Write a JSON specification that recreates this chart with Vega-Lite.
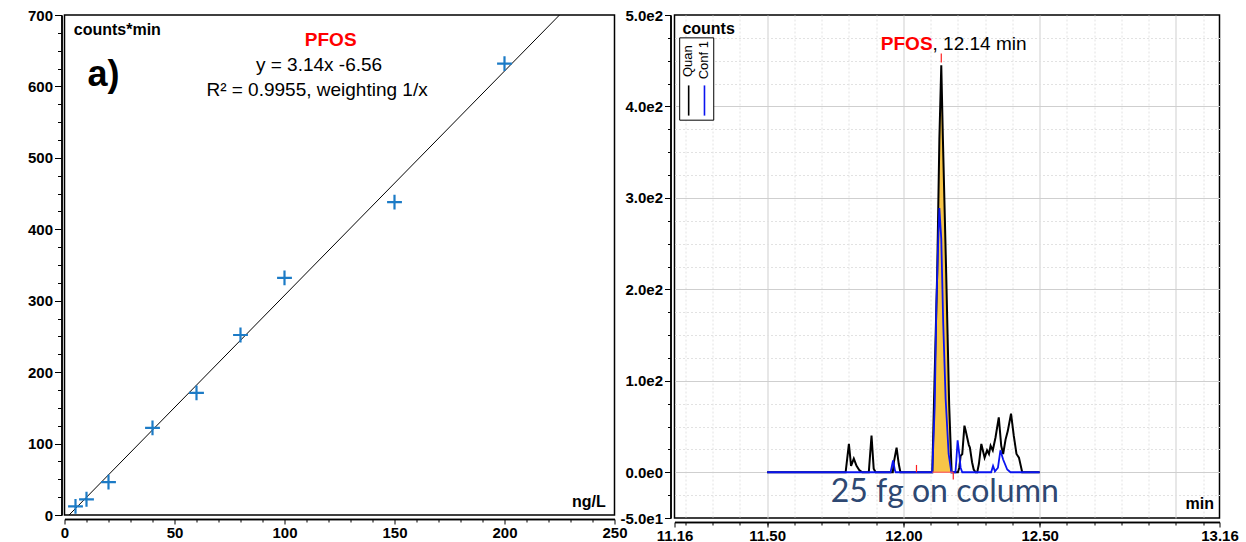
{
  "$schema": "https://vega.github.io/schema/vega-lite/v6.json",
  "background": "white",
  "padding": {"left": 26.5, "top": 7, "right": 0, "bottom": 0},
  "bounds": "flush",
  "spacing": 60,
  "config": {
    "font": "Liberation Sans",
    "view": {"stroke": "black", "strokeWidth": 1.5},
    "axis": {
      "domainColor": "black", "domainWidth": 1.5, "tickColor": "black", "tickWidth": 1,
      "labelColor": "black", "labelFont": "Liberation Sans", "labelFontWeight": "bold", "labelFontSize": 15,
      "grid": false, "labelOverlap": false, "labelFlush": false
    }
  },
  "datasets": {
    "cal": [
      {"conc": 5, "area": 12}, {"conc": 10, "area": 22}, {"conc": 20, "area": 46},
      {"conc": 40, "area": 122}, {"conc": 60, "area": 171}, {"conc": 80, "area": 252},
      {"conc": 100, "area": 332}, {"conc": 150, "area": 438}, {"conc": 200, "area": 632}
    ],
    "fit": [{"conc": 2.09, "area": 0}, {"conc": 225, "area": 700}],
    "chrom": [
      {"t": 11.5, "c": 0, "trace": "Quan"}, {"t": 11.788, "c": 0, "trace": "Quan"}, {"t": 11.8, "c": 31, "trace": "Quan"},
      {"t": 11.808, "c": 7, "trace": "Quan"}, {"t": 11.818, "c": 15, "trace": "Quan"}, {"t": 11.828, "c": 7, "trace": "Quan"},
      {"t": 11.839, "c": 2, "trace": "Quan"}, {"t": 11.849, "c": 0, "trace": "Quan"}, {"t": 11.873, "c": 0, "trace": "Quan"},
      {"t": 11.883, "c": 40, "trace": "Quan"}, {"t": 11.891, "c": 4, "trace": "Quan"}, {"t": 11.898, "c": 0, "trace": "Quan"},
      {"t": 11.961, "c": 0, "trace": "Quan"}, {"t": 11.965, "c": 11, "trace": "Quan"}, {"t": 11.975, "c": 27, "trace": "Quan"},
      {"t": 11.983, "c": 9, "trace": "Quan"}, {"t": 11.989, "c": 0, "trace": "Quan"}, {"t": 12.106, "c": 0, "trace": "Quan"},
      {"t": 12.112, "c": 73, "trace": "Quan"}, {"t": 12.124, "c": 218, "trace": "Quan"}, {"t": 12.132, "c": 364, "trace": "Quan"},
      {"t": 12.139, "c": 445, "trace": "Quan"}, {"t": 12.145, "c": 364, "trace": "Quan"}, {"t": 12.157, "c": 218, "trace": "Quan"},
      {"t": 12.168, "c": 73, "trace": "Quan"}, {"t": 12.177, "c": 0, "trace": "Quan"}, {"t": 12.2, "c": 0, "trace": "Quan"},
      {"t": 12.205, "c": 5, "trace": "Quan"}, {"t": 12.21, "c": 18, "trace": "Quan"}, {"t": 12.216, "c": 20, "trace": "Quan"},
      {"t": 12.224, "c": 51, "trace": "Quan"}, {"t": 12.229, "c": 45, "trace": "Quan"}, {"t": 12.234, "c": 38, "trace": "Quan"},
      {"t": 12.24, "c": 30, "trace": "Quan"}, {"t": 12.244, "c": 27, "trace": "Quan"}, {"t": 12.252, "c": 11, "trace": "Quan"},
      {"t": 12.258, "c": 3, "trace": "Quan"}, {"t": 12.265, "c": 0, "trace": "Quan"}, {"t": 12.271, "c": 0, "trace": "Quan"},
      {"t": 12.277, "c": 9, "trace": "Quan"}, {"t": 12.286, "c": 31, "trace": "Quan"}, {"t": 12.298, "c": 16, "trace": "Quan"},
      {"t": 12.307, "c": 24, "trace": "Quan"}, {"t": 12.314, "c": 20, "trace": "Quan"}, {"t": 12.32, "c": 29, "trace": "Quan"},
      {"t": 12.328, "c": 24, "trace": "Quan"}, {"t": 12.338, "c": 38, "trace": "Quan"}, {"t": 12.35, "c": 60, "trace": "Quan"},
      {"t": 12.359, "c": 29, "trace": "Quan"}, {"t": 12.366, "c": 20, "trace": "Quan"}, {"t": 12.375, "c": 36, "trace": "Quan"},
      {"t": 12.383, "c": 45, "trace": "Quan"}, {"t": 12.395, "c": 64, "trace": "Quan"}, {"t": 12.405, "c": 40, "trace": "Quan"},
      {"t": 12.415, "c": 20, "trace": "Quan"}, {"t": 12.424, "c": 16, "trace": "Quan"}, {"t": 12.436, "c": 0, "trace": "Quan"},
      {"t": 12.5, "c": 0, "trace": "Quan"},
      {"t": 11.5, "c": 0, "trace": "Conf 1"}, {"t": 11.953, "c": 0, "trace": "Conf 1"}, {"t": 11.962, "c": 13, "trace": "Conf 1"},
      {"t": 11.969, "c": 2, "trace": "Conf 1"}, {"t": 11.972, "c": 0, "trace": "Conf 1"}, {"t": 12.106, "c": 0, "trace": "Conf 1"},
      {"t": 12.115, "c": 73, "trace": "Conf 1"}, {"t": 12.121, "c": 182, "trace": "Conf 1"}, {"t": 12.128, "c": 255, "trace": "Conf 1"},
      {"t": 12.132, "c": 289, "trace": "Conf 1"}, {"t": 12.139, "c": 255, "trace": "Conf 1"}, {"t": 12.146, "c": 164, "trace": "Conf 1"},
      {"t": 12.155, "c": 80, "trace": "Conf 1"}, {"t": 12.166, "c": 20, "trace": "Conf 1"}, {"t": 12.176, "c": 0, "trace": "Conf 1"},
      {"t": 12.191, "c": 0, "trace": "Conf 1"}, {"t": 12.194, "c": 12, "trace": "Conf 1"}, {"t": 12.199, "c": 35, "trace": "Conf 1"},
      {"t": 12.205, "c": 20, "trace": "Conf 1"}, {"t": 12.21, "c": 5, "trace": "Conf 1"}, {"t": 12.216, "c": 0, "trace": "Conf 1"},
      {"t": 12.322, "c": 0, "trace": "Conf 1"}, {"t": 12.329, "c": 7, "trace": "Conf 1"}, {"t": 12.336, "c": 1, "trace": "Conf 1"},
      {"t": 12.347, "c": 5, "trace": "Conf 1"}, {"t": 12.356, "c": 24, "trace": "Conf 1"}, {"t": 12.366, "c": 14, "trace": "Conf 1"},
      {"t": 12.381, "c": 3, "trace": "Conf 1"}, {"t": 12.393, "c": 0, "trace": "Conf 1"}, {"t": 12.5, "c": 0, "trace": "Conf 1"}
    ]
  },
  "hconcat": [
    {
      "width": 550,
      "height": 500,
      "resolve": {"axis": {"x": "independent", "y": "independent"}},
      "layer": [
        {
          "data": {"name": "fit"},
          "mark": {"type": "line", "color": "black", "strokeWidth": 1, "clip": true},
          "encoding": {
            "x": {"field": "conc", "type": "quantitative", "scale": {"domain": [0, 250], "nice": false},
              "axis": {"title": null, "orient": "bottom", "offset": 4, "values": [0, 50, 100, 150, 200, 250], "format": "d", "tickSize": 5, "labelPadding": 1}},
            "y": {"field": "area", "type": "quantitative", "scale": {"domain": [0, 700], "nice": false},
              "axis": {"title": null, "orient": "left", "offset": 3, "values": [0, 100, 200, 300, 400, 500, 600, 700], "format": "d", "tickSize": 7, "labelPadding": 2}}
          }
        },
        {
          "data": {"name": "cal"},
          "mark": {"type": "point", "shape": "M-1,0H1M0,-1V1", "filled": false, "color": "#1C7BC6", "strokeWidth": 2.2, "size": 220, "opacity": 1},
          "encoding": {
            "x": {"field": "conc", "type": "quantitative",
              "axis": {"title": null, "orient": "bottom", "offset": 4, "labels": false, "tickSize": 3,
                "values": [10,20,30,40,60,70,80,90,110,120,130,140,160,170,180,190,210,220,230,240]}},
            "y": {"field": "area", "type": "quantitative",
              "axis": {"title": null, "orient": "left", "offset": 3, "labels": false, "tickSize": 4,
                "values": [25,50,75,125,150,175,225,250,275,325,350,375,425,450,475,525,550,575,625,650,675]}}
          }
        },
        {
          "data": {"values": [
            {"x": 4.2, "y": 672, "label": "counts*min", "kind": "unit"},
            {"x": 246, "y": 11, "label": "ng/L", "kind": "unitr"}
          ]},
          "transform": [{"filter": "datum.kind === 'unit'"}],
          "mark": {"type": "text", "align": "left", "baseline": "alphabetic", "fontSize": 16, "fontWeight": "bold", "color": "black"},
          "encoding": {"x": {"field": "x", "type": "quantitative", "axis": null}, "y": {"field": "y", "type": "quantitative", "axis": null}, "text": {"field": "label"}}
        },
        {
          "data": {"values": [{"x": 246, "y": 11, "label": "ng/L"}]},
          "mark": {"type": "text", "align": "right", "baseline": "alphabetic", "fontSize": 16, "fontWeight": "bold", "color": "black"},
          "encoding": {"x": {"field": "x", "type": "quantitative", "axis": null}, "y": {"field": "y", "type": "quantitative", "axis": null}, "text": {"field": "label"}}
        },
        {
          "data": {"values": [{"x": 10.5, "y": 601, "label": "a)"}]},
          "mark": {"type": "text", "align": "left", "baseline": "alphabetic", "fontSize": 36, "fontWeight": "bold", "color": "black"},
          "encoding": {"x": {"field": "x", "type": "quantitative", "axis": null}, "y": {"field": "y", "type": "quantitative", "axis": null}, "text": {"field": "label"}}
        },
        {
          "data": {"values": [{"x": 121, "y": 657, "label": "PFOS"}]},
          "mark": {"type": "text", "align": "center", "baseline": "alphabetic", "fontSize": 19, "fontWeight": "bold", "color": "#FF0000"},
          "encoding": {"x": {"field": "x", "type": "quantitative", "axis": null}, "y": {"field": "y", "type": "quantitative", "axis": null}, "text": {"field": "label"}}
        },
        {
          "data": {"values": [{"x": 115.7, "y": 622, "label": "y = 3.14x -6.56"}, {"x": 114.8, "y": 587, "label": "R² = 0.9955, weighting 1/x"}]},
          "mark": {"type": "text", "align": "center", "baseline": "alphabetic", "fontSize": 19, "color": "black"},
          "encoding": {"x": {"field": "x", "type": "quantitative", "axis": null}, "y": {"field": "y", "type": "quantitative", "axis": null}, "text": {"field": "label"}}
        }
      ]
    },
    {
      "width": 545,
      "height": 503,
      "resolve": {"axis": {"x": "independent", "y": "independent"}},
      "layer": [
        {
          "data": {"name": "chrom"},
          "transform": [{"filter": "datum.trace === 'Quan' && datum.t >= 12.106 && datum.t <= 12.177"}],
          "mark": {"type": "area", "color": "#F7C548", "opacity": 1},
          "encoding": {
            "x": {"field": "t", "type": "quantitative", "scale": {"domain": [11.16, 13.16], "nice": false},
              "axis": {"title": null, "orient": "bottom", "offset": 4, "labels": false, "tickSize": 3,
                "values": [11.2,11.3,11.4,11.5,11.6,11.7,11.8,11.9,12,12.1,12.2,12.3,12.4,12.5,12.6,12.7,12.8,12.9,13,13.1],
                "grid": true,
                "gridColor": {"condition": {"test": "abs(datum.value - 11.5) < 0.001 || abs(datum.value - 12) < 0.001 || abs(datum.value - 12.5) < 0.001 || abs(datum.value - 13) < 0.001", "value": "#cfcfcf"}, "value": "#e2e2e2"},
                "gridDash": {"condition": {"test": "abs(datum.value - 11.5) < 0.001 || abs(datum.value - 12) < 0.001 || abs(datum.value - 12.5) < 0.001 || abs(datum.value - 13) < 0.001", "value": []}, "value": [2, 2]},
                "gridWidth": 1}},
            "y": {"field": "c", "type": "quantitative", "scale": {"domain": [-50, 500], "nice": false, "zero": false},
              "axis": {"title": null, "orient": "left", "offset": 4, "labels": false, "tickSize": 3,
                "values": [-25,0,25,50,75,100,125,150,175,200,225,250,275,300,325,350,375,400,425,450,475],
                "grid": true,
                "gridColor": {"condition": {"test": "datum.value % 100 === 0", "value": "#cfcfcf"}, "value": "#e2e2e2"},
                "gridDash": {"condition": {"test": "datum.value % 100 === 0", "value": []}, "value": [2, 2]},
                "gridWidth": 1}}
          }
        },
        {
          "data": {"name": "chrom"},
          "transform": [{"filter": "datum.trace === 'Quan'"}],
          "mark": {"type": "line", "color": "black", "strokeWidth": 2},
          "encoding": {
            "x": {"field": "t", "type": "quantitative",
              "axis": {"title": null, "orient": "bottom", "offset": 4, "tickSize": 5, "labelPadding": 1,
                "values": [11.16, 11.5, 12, 12.5, 13.16], "format": ".2f"}},
            "y": {"field": "c", "type": "quantitative",
              "axis": {"title": null, "orient": "left", "offset": 4, "tickSize": 6, "labelPadding": 2,
                "values": [-50, 0, 100, 200, 300, 400, 500],
                "labelExpr": "replace(replace(format(datum.value, '.1e'), '+', ''), '−', '-')"}}
          }
        },
        {
          "data": {"name": "chrom"},
          "transform": [{"filter": "datum.trace === 'Conf 1'"}],
          "mark": {"type": "line", "color": "#0A14F0", "strokeWidth": 1.8},
          "encoding": {
            "x": {"field": "t", "type": "quantitative", "axis": null},
            "y": {"field": "c", "type": "quantitative", "axis": null}
          }
        },
        {
          "data": {"values": [{"t1": 12.106, "t2": 12.183, "c": 0}]},
          "mark": {"type": "rule", "color": "#FF5A5A", "strokeWidth": 1.5, "opacity": 0.8},
          "encoding": {"x": {"field": "t1", "type": "quantitative", "axis": null}, "x2": {"field": "t2"}, "y": {"field": "c", "type": "quantitative", "axis": null}}
        },
        {
          "data": {"values": [{"t": 12.048, "c1": 0, "c2": 8}, {"t": 12.183, "c1": -8, "c2": 0}, {"t": 12.139, "c1": 448, "c2": 458}]},
          "mark": {"type": "rule", "color": "#FF2020", "strokeWidth": 1.2},
          "encoding": {"x": {"field": "t", "type": "quantitative", "axis": null}, "y": {"field": "c1", "type": "quantitative", "axis": null}, "y2": {"field": "c2"}}
        },
        {
          "data": {"values": [{"t1": 11.179, "t2": 11.304, "c1": 385, "c2": 475}]},
          "mark": {"type": "rect", "fill": "white", "stroke": "black", "strokeWidth": 1},
          "encoding": {"x": {"field": "t1", "type": "quantitative", "axis": null}, "x2": {"field": "t2"}, "y": {"field": "c1", "type": "quantitative", "axis": null}, "y2": {"field": "c2"}}
        },
        {
          "data": {"values": [{"t": 11.212, "c1": 390, "c2": 423, "trace": "Quan"}, {"t": 11.27, "c1": 390, "c2": 423, "trace": "Conf 1"}]},
          "mark": {"type": "rule", "strokeWidth": 1.6},
          "encoding": {"x": {"field": "t", "type": "quantitative", "axis": null}, "y": {"field": "c1", "type": "quantitative", "axis": null}, "y2": {"field": "c2"},
            "color": {"field": "trace", "type": "nominal", "scale": {"domain": ["Quan", "Conf 1"], "range": ["black", "#0A14F0"]}, "legend": null}}
        },
        {
          "data": {"values": [{"t": 11.209, "c": 449.5, "label": "Quan"}, {"t": 11.268, "c": 450.6, "label": "Conf 1"}]},
          "mark": {"type": "text", "angle": 270, "align": "center", "baseline": "middle", "fontSize": 13, "color": "black"},
          "encoding": {"x": {"field": "t", "type": "quantitative", "axis": null}, "y": {"field": "c", "type": "quantitative", "axis": null}, "text": {"field": "label"}}
        },
        {
          "data": {"values": [{"t": 11.189, "c": 479, "label": "counts"}]},
          "mark": {"type": "text", "align": "left", "baseline": "alphabetic", "fontSize": 16, "fontWeight": "bold", "color": "black"},
          "encoding": {"x": {"field": "t", "type": "quantitative", "axis": null}, "y": {"field": "c", "type": "quantitative", "axis": null}, "text": {"field": "label"}}
        },
        {
          "data": {"values": [{"t": 12.107, "c": 462, "label": "PFOS"}]},
          "mark": {"type": "text", "align": "right", "baseline": "alphabetic", "fontSize": 19, "fontWeight": "bold", "color": "#FF0000"},
          "encoding": {"x": {"field": "t", "type": "quantitative", "axis": null}, "y": {"field": "c", "type": "quantitative", "axis": null}, "text": {"field": "label"}}
        },
        {
          "data": {"values": [{"t": 12.107, "c": 462, "label": ", 12.14 min"}]},
          "mark": {"type": "text", "align": "left", "baseline": "alphabetic", "fontSize": 19, "color": "black"},
          "encoding": {"x": {"field": "t", "type": "quantitative", "axis": null}, "y": {"field": "c", "type": "quantitative", "axis": null}, "text": {"field": "label"}}
        },
        {
          "data": {"values": [{"t": 13.14, "c": -40.6, "label": "min"}]},
          "mark": {"type": "text", "align": "right", "baseline": "alphabetic", "fontSize": 16, "fontWeight": "bold", "color": "black"},
          "encoding": {"x": {"field": "t", "type": "quantitative", "axis": null}, "y": {"field": "c", "type": "quantitative", "axis": null}, "text": {"field": "label"}}
        },
        {
          "data": {"values": [{"t": 12.152, "c": -33, "label": "25 fg on column"}]},
          "mark": {"type": "text", "align": "center", "baseline": "alphabetic", "font": "Lato", "fontSize": 32, "color": "#2E4872"},
          "encoding": {"x": {"field": "t", "type": "quantitative", "axis": null}, "y": {"field": "c", "type": "quantitative", "axis": null}, "text": {"field": "label"}}
        }
      ]
    }
  ]
}
